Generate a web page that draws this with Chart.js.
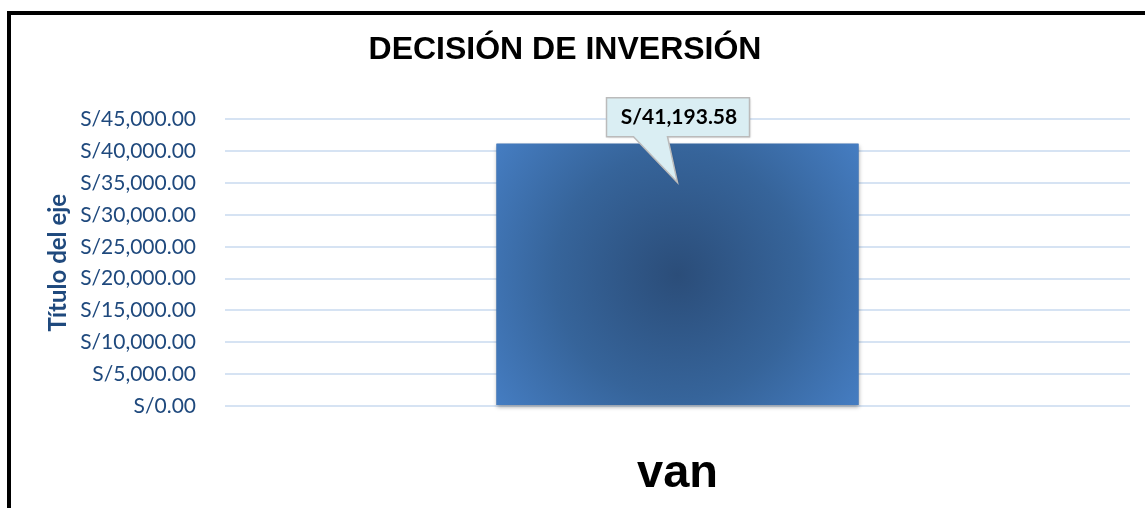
<!DOCTYPE html>
<html>
<head>
<meta charset="utf-8">
<script src="https://cdn.jsdelivr.net/npm/chart.js@4/dist/chart.umd.min.js"></script>
<style>
  html, body { margin: 0; padding: 0; background: #fff; }
  #wrap { position: relative; width: 1145px; height: 508px; overflow: hidden; }
  #frame { position: absolute; left: 7px; top: 11px; width: 1200px; height: 600px;
           border-left: 4px solid #000; border-top: 4px solid #000; box-sizing: border-box; }
  canvas { position: absolute; left: 0; top: 0; }
</style>
</head>
<body>
<div id="wrap">
  <div id="frame"></div>
  <canvas id="canvas" width="1145" height="508"></canvas>
</div>
<script>
// data
var categories = ['van'];
var vanValues = [41193.58];
var yTicks = [0, 5000, 10000, 15000, 20000, 25000, 30000, 35000, 40000, 45000];

var axisBlue = '#1F497D';

function soles(v) {
  return 'S/' + Number(v).toLocaleString('en-US', {minimumFractionDigits: 2, maximumFractionDigits: 2});
}

// radial gradient for the bar, built from the scales
function barFill(ctx) {
  var chart = ctx.chart;
  if (!chart.chartArea) return '#3E6EAA';
  var xs = chart.scales.x, ys = chart.scales.y;
  var cx = xs.getPixelForValue(ctx.dataIndex);
  var top = ys.getPixelForValue(ctx.raw);
  var base = ys.getPixelForValue(0);
  var cy = (top + base) / 2;
  var half = (chart.chartArea.right - chart.chartArea.left) / categories.length * 0.4 / 2;
  var r = Math.sqrt(half * half + (base - cy) * (base - cy));
  var g = chart.ctx.createRadialGradient(cx, cy, 0, cx, cy, r);
  g.addColorStop(0, '#2B4D79');
  g.addColorStop(0.55, '#36649A');
  g.addColorStop(1, '#457DC2');
  return g;
}

// callout style data label
var calloutPlugin = {
  id: 'callout',
  afterDatasetsDraw: function(chart) {
    var c = chart.ctx;
    var meta = chart.getDatasetMeta(0);
    meta.data.forEach(function(bar, i) {
      var cx = bar.x, yTop = bar.y;
      var bl = cx - 71, br = cx + 72, bt = yTop - 46, bb = yTop - 7;
      c.save();
      c.shadowColor = 'rgba(0,0,0,0.15)';
      c.shadowBlur = 2;
      c.shadowOffsetX = 1;
      c.shadowOffsetY = 1;
      c.beginPath();
      c.moveTo(bl, bt);
      c.lineTo(br, bt);
      c.lineTo(br, bb);
      c.lineTo(cx - 10, bb);
      c.lineTo(cx, yTop + 39);
      c.lineTo(cx - 44, bb);
      c.lineTo(bl, bb);
      c.closePath();
      c.fillStyle = '#DAEEF3';
      c.fill();
      c.shadowColor = 'transparent';
      c.lineWidth = 1.5;
      c.strokeStyle = '#BBBBBB';
      c.stroke();
      c.fillStyle = '#000';
      c.font = 'bold 21px Lato, "Open Sans", sans-serif';
      c.textAlign = 'center';
      c.textBaseline = 'middle';
      c.fillText(soles(vanValues[i]), (bl + br) / 2 + 1, (bt + bb) / 2);
      c.restore();
    });
  }
};

// small shadow under the bar
var shadowPlugin = {
  id: 'barShadow',
  beforeDatasetsDraw: function(chart) {
    var c = chart.ctx;
    chart.getDatasetMeta(0).data.forEach(function(bar) {
      c.save();
      c.shadowColor = 'rgba(0,0,0,0.35)';
      c.shadowBlur = 4;
      c.shadowOffsetY = 2;
      c.fillStyle = '#3E6EAA';
      c.fillRect(bar.x - bar.width / 2, bar.y, bar.width, bar.base - bar.y);
      c.restore();
    });
  }
};

var ctx = document.getElementById('canvas').getContext('2d');
var myChart = new Chart(ctx, {
  type: 'bar',
  data: {
    labels: categories,
    datasets: [{
      label: 'van',
      data: vanValues,
      backgroundColor: barFill,
      borderWidth: 0,
      categoryPercentage: 1,
      barPercentage: 0.4
    }]
  },
  options: {
    responsive: false,
    animation: false,
    devicePixelRatio: 1,
    layout: { padding: { left: 0, right: 15, top: 0, bottom: 0 } },
    plugins: {
      legend: { display: false },
      tooltip: { enabled: false },
      title: {
        display: true,
        text: 'DECISIÓN DE INVERSIÓN',
        color: '#000',
        font: { family: 'Arial, "Liberation Sans", sans-serif', size: 32, weight: 'bold' },
        padding: { top: 31, bottom: 50 }
      }
    },
    scales: {
      x: {
        grid: { display: false, drawTicks: false },
        border: { display: false },
        ticks: {
          color: '#000',
          padding: 40,
          font: { family: 'Arial, "Liberation Sans", sans-serif', size: 47, weight: 'bold' }
        },
        afterFit: function(s) { s.height = 102; }
      },
      y: {
        min: 0,
        max: 45000,
        afterBuildTicks: function(s) {
          s.ticks = yTicks.map(function(v) { return {value: v}; });
        },
        grid: { color: '#D6E3F3', lineWidth: 2, drawTicks: false },
        border: { display: false },
        ticks: {
          color: axisBlue,
          padding: 29,
          font: { family: 'Lato, "Open Sans", sans-serif', size: 21 },
          callback: function(v) { return soles(v); }
        },
        title: {
          display: true,
          text: 'Título del eje',
          color: axisBlue,
          font: { family: 'Lato, "Open Sans", sans-serif', size: 24, weight: 'bold' },
          padding: { top: 44, bottom: 0 }
        },
        afterFit: function(s) { s.width = 225; }
      }
    }
  },
  plugins: [shadowPlugin, calloutPlugin]
});
</script>
</body>
</html>
